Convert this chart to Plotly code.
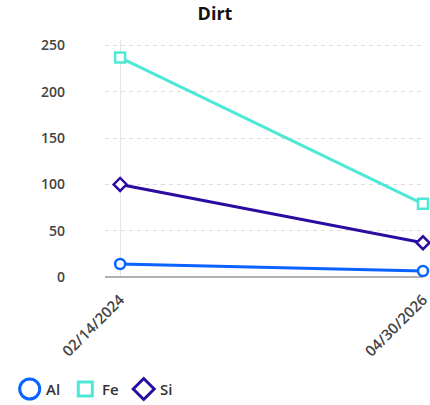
import plotly.graph_objects as go

dates = ["02/14/2024", "04/30/2026"]
al = [14, 6.5]
fe = [237, 79]
si = [100, 37]
y_ticks = [0, 50, 100, 150, 200, 250]
names = ["Al", "Fe", "Si"]
colors = ["#0a62ff", "#4de8d6", "#2a0ca0"]
symbols = ["circle", "square", "diamond"]
values = [al, fe, si]

# plot-area geometry (pixels)
L, R, T, B = 105, 423, 40, 277
W, H = R - L, B - T

fig = go.Figure()
for name, vals, color, sym in zip(names, values, colors, symbols):
    fig.add_trace(go.Scatter(
        x=dates, y=vals, mode="lines+markers", name=name, showlegend=False,
        line=dict(color=color, width=3),
        marker=dict(symbol=sym, size=10, color="white",
                    line=dict(color=color, width=2.5)),
        cliponaxis=False,
    ))

# custom legend (symbol center x, text start x) in pixels
leg_sym_x = [29.7, 85.3, 143.7]
leg_txt_x = [44, 100, 158]
leg_y = 389
shapes = []
annotations = []
for name, color, sym, sx, tx in zip(names, colors, symbols, leg_sym_x, leg_txt_x):
    cx, cy = sx - L, B - leg_y
    common = dict(xref="paper", yref="paper", xsizemode="pixel", ysizemode="pixel",
                  xanchor=0, yanchor=0, line=dict(color=color, width=3),
                  fillcolor="white", layer="above")
    if sym == "circle":
        r = 10
        shapes.append(dict(type="circle", x0=cx - r, x1=cx + r, y0=cy - r, y1=cy + r, **common))
    elif sym == "square":
        h = 7
        shapes.append(dict(type="rect", x0=cx - h, x1=cx + h, y0=cy - h, y1=cy + h, **common))
    else:
        d = 10.5
        path = (f"M {cx - d} {cy} L {cx} {cy + d} L {cx + d} {cy} L {cx} {cy - d} Z")
        shapes.append(dict(type="path", path=path, **common))
    annotations.append(dict(
        text=name, xref="paper", yref="paper", x=(tx - L) / W, y=(B - leg_y) / H,
        xanchor="left", yanchor="middle", showarrow=False,
        font=dict(size=15, color="#333", family="Open Sans", weight=600)))

fig.update_layout(
    width=430, height=405,
    margin=dict(l=L, r=430 - R, t=T, b=405 - B, autoexpand=False),
    paper_bgcolor="white", plot_bgcolor="white",
    font=dict(family="Open Sans", size=14, color="#444"),
    title=dict(text="<b>Dirt</b>", x=0.5, xanchor="center", y=1 - 14 / 405, yref="container",
               yanchor="middle", font=dict(size=18, color="#111", family="Open Sans")),
    showlegend=False,
    shapes=shapes,
    annotations=annotations,
    xaxis=dict(type="category", range=[-0.05, 1.0], showgrid=True, automargin=False,
               gridcolor="#e6e6e6", gridwidth=1, showline=False, zeroline=False,
               tickangle=-45, ticks="", tickfont=dict(size=15, color="#444", weight=600),
               ticklabelstandoff=10),
    yaxis=dict(range=[0, 256], tickvals=y_ticks, showgrid=True, gridcolor="#dcdcdc",
               griddash="4px,4px", gridwidth=1, zeroline=True, zerolinecolor="#b0b0b0",
               zerolinewidth=2, showline=False, ticks="", automargin=False,
               tickfont=dict(size=14, color="#444", weight=600),
               ticklabelstandoff=39),
)

fig.write_html("out.html", config={"displayModeBar": False},
               post_script="document.body.style.margin='0px';")
